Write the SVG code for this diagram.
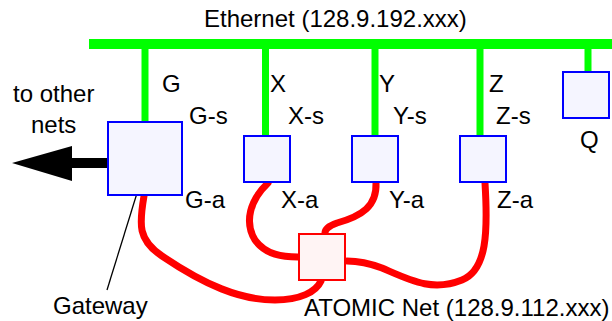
<svg xmlns="http://www.w3.org/2000/svg" width="612" height="321" viewBox="0 0 612 321">
<style>
text{font-family:"Liberation Sans",Arial,Helvetica,sans-serif;font-size:24px;fill:#000}
.host{fill:#f5f5ff;stroke:#0000ff;stroke-width:2}
.hub{fill:#fff4f4;stroke:#ff0000;stroke-width:2}
.eth{stroke:#00ff00;stroke-width:7;fill:none}
.atm{stroke:#ff0000;stroke-width:7;fill:none;stroke-linecap:round}
</style>
<rect width="612" height="321" fill="#fff"/>
<g id="connectors">
<rect x="89" y="39" width="523" height="10" fill="#00ff00"/>
<line class="eth" x1="145" y1="48" x2="145" y2="122"/>
<line class="eth" x1="265.5" y1="48" x2="265.5" y2="136"/>
<line class="eth" x1="375" y1="48" x2="375" y2="136"/>
<line class="eth" x1="480" y1="48" x2="480" y2="136"/>
<line class="eth" x1="588" y1="48" x2="588" y2="72"/>
<path class="atm" d="M144,196 C139,225 138,240 162,256 C205,285 240,300 275,300 C300,300 316,292 321,281"/>
<path class="atm" d="M268,183 C250,200 244,222 255,240 C266,255 283,257 298,257"/>
<path class="atm" d="M376,183 C377,206 362,216 337,223 C328,226 325,230 325,233"/>
<path class="atm" d="M485,183 C488,232 487,270 462,280 C432,292 410,280 382,268 C366,262 356,261 347,261"/>
<polygon points="12,163 72,146 72,158 108,158 108,168 72,168 72,181" fill="#000"/>
<line x1="142" y1="177" x2="107" y2="290" stroke="#000" stroke-width="1.3"/>
</g>
<g id="node-G"><rect class="host" x="108" y="122" width="74" height="73"/></g>
<g id="node-X"><rect class="host" x="244" y="136" width="46" height="46"/></g>
<g id="node-Y"><rect class="host" x="352" y="136" width="46" height="46"/></g>
<g id="node-Z"><rect class="host" x="460" y="136" width="46" height="46"/></g>
<g id="node-Q"><rect class="host" x="563" y="72" width="46" height="46"/></g>
<g id="node-hub"><rect class="hub" x="299" y="234" width="46" height="46"/></g>
<g id="labels">
<text x="204" y="27">Ethernet (128.9.192.xxx)</text>
<text x="162" y="92">G</text>
<text x="270" y="92">X</text>
<text x="379" y="92">Y</text>
<text x="489" y="92">Z</text>
<text x="189" y="124">G-s</text>
<text x="288" y="124">X-s</text>
<text x="393" y="124">Y-s</text>
<text x="496" y="124">Z-s</text>
<text x="580" y="148">Q</text>
<text x="13" y="102">to other</text>
<text x="31" y="133">nets</text>
<text x="185" y="208">G-a</text>
<text x="281" y="208">X-a</text>
<text x="389" y="208">Y-a</text>
<text x="497" y="208">Z-a</text>
<text x="53" y="314">Gateway</text>
<text x="304" y="316">ATOMIC Net (128.9.112.xxx)</text>
</g>
</svg>
